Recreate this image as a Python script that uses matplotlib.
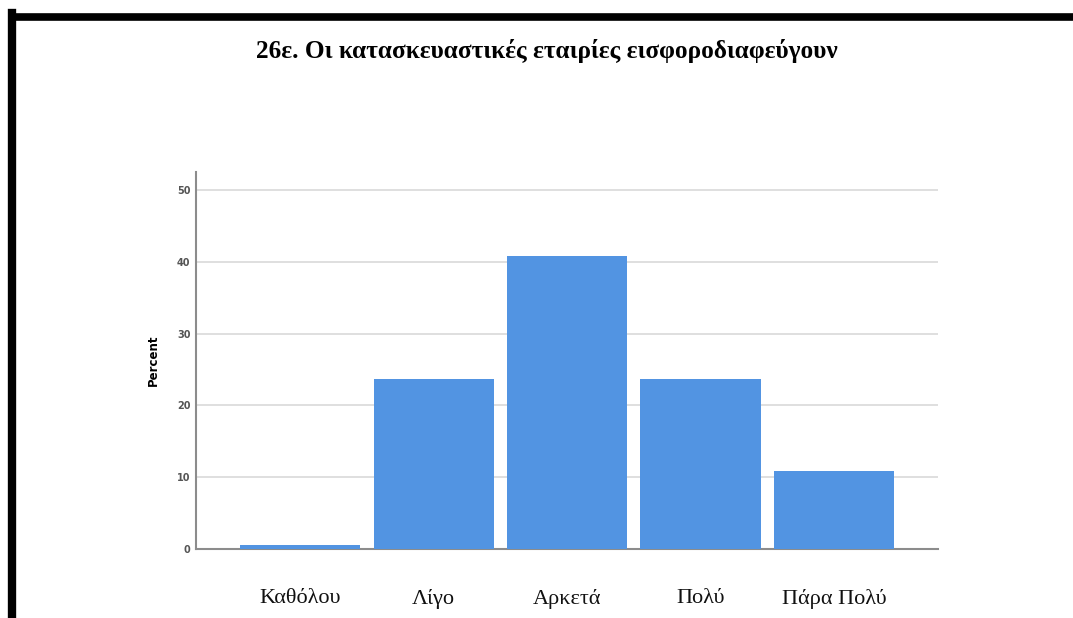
import matplotlib
matplotlib.use("Agg")
import matplotlib.pyplot as plt
from matplotlib.lines import Line2D

# values
categories = ["Καθόλου", "Λίγο", "Αρκετά", "Πολύ", "Πάρα Πολύ"]
percent = [0.6, 23.7, 40.8, 23.7, 10.8]
yticks = [0, 10, 20, 30, 40, 50]
title = "26ε. Οι κατασκευαστικές εταιρίες εισφοροδιαφεύγουν"

fig = plt.figure(figsize=(10.73, 6.18), dpi=100)
ax = fig.add_axes([0.1827, 0.1117, 0.6915, 0.610])

x = range(len(categories))
ax.bar(x, percent, width=0.9, color="#5294e2", zorder=3)

ax.set_xlim(-0.78, 4.78)
ax.set_ylim(0, 52.5)
ax.set_yticks(yticks)
ax.grid(axis="y", color="#d9d9d9", linewidth=1.2, zorder=0)

for side in ["top", "right"]:
    ax.spines[side].set_visible(False)
for side in ["left", "bottom"]:
    ax.spines[side].set_color("#8c8c8c")
    ax.spines[side].set_linewidth(1.5)

ax.set_xticks(list(x))
ax.set_xticklabels(categories, fontfamily="Liberation Serif", fontsize=16, color="#111111")
ax.tick_params(axis="x", length=0, pad=29)
ax.tick_params(axis="y", length=0, pad=4, labelsize=7, labelcolor="#555555")
for lab in ax.get_yticklabels():
    lab.set_fontweight("bold")

ax.set_ylabel("Percent", fontsize=8.5, fontweight="bold", labelpad=12)

fig.text(0.510, 0.917, title, ha="center", va="center",
         fontfamily="Liberation Serif", fontsize=18.2, fontweight="bold")

# black frame on top and left edge, as in the screenshot
fig.add_artist(Line2D([12 / 1073, 1.0], [1 - 16.5 / 618, 1 - 16.5 / 618],
                      color="black", linewidth=5.5, transform=fig.transFigure))
fig.add_artist(Line2D([12 / 1073, 12 / 1073], [0, 1 - 13 / 618],
                      color="black", linewidth=6, transform=fig.transFigure))

plt.savefig("out.png", dpi=100)
